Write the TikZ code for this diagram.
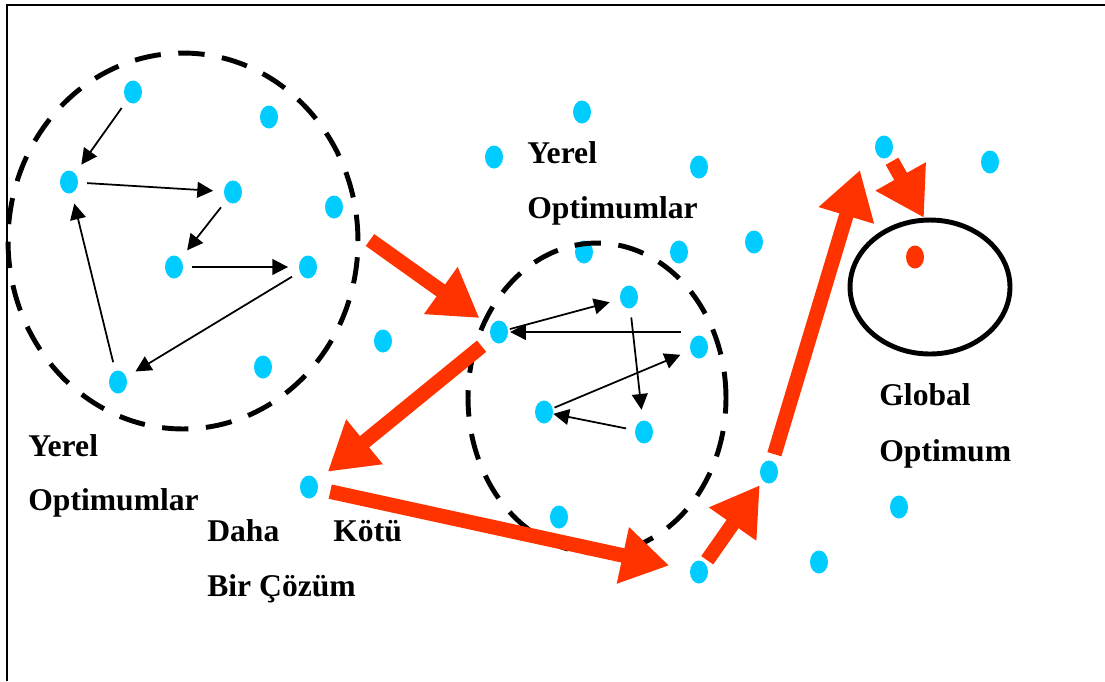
\documentclass[tikz,border=0pt]{standalone}
\usepackage{fontspec}
\setmainfont{Liberation Serif}
\usepackage{tikz}
\usetikzlibrary{arrows.meta,shapes.geometric}

\definecolor{dotblue}{RGB}{0,204,255}
\definecolor{leapred}{RGB}{255,51,0}

\tikzset{
  soln/.style={ellipse,fill=dotblue,inner sep=0pt,minimum width=0.36cm,minimum height=0.46cm},
  walk/.style={line width=1pt,-{Triangle[length=9pt,width=9pt]},shorten <=5pt,shorten >=6pt},
  leap/.style={draw=leapred,line width=8.3pt,-{Triangle[length=27pt,width=31pt]}},
  basin/.style={line width=2.8pt,dash pattern=on 15pt off 10pt},
  lbl/.style={anchor=base west,inner sep=0pt,font=\fontsize{18}{22}\selectfont\bfseries}
}

\begin{document}
\begin{tikzpicture}[x=0.02cm,y=-0.02cm]
\useasboundingbox (0,0) rectangle (1105,681);
\draw[line width=1.1pt] (7,681) -- (7,5) -- (1105,5);

% candidate solutions
\foreach \n/\x/\y in {a1/133/92, a2/269/117, a3/69/182, a4/233/192, a5/334/207,
    a6/174/267, a7/308/267, a8/383/341, a9/263/367, a10/118/382}
    {\node[soln] (\n) at (\x,\y) {};}
\foreach \n/\x/\y in {b1/584/252, b2/679/252, b3/629/297, b4/499/332, b5/699/347,
    b6/544/412, b7/644/432, b8/559/517, b9/699/572}
    {\node[soln] (\n) at (\x,\y) {};}
\foreach \n/\x/\y in {t1/582/112, t2/494/157, c1/699/167, c2/754/242, c3/884/147,
    c4/990/162, c5/769/472, c6/899/507, c7/819/562, s/309/487}
    {\node[soln] (\n) at (\x,\y) {};}

% the two local basins and the global one
\draw[basin] (183,241) ellipse [x radius=3.5cm, y radius=3.76cm];
\draw[basin] (597,398) ellipse [x radius=2.58cm, y radius=3.1cm];
\node[draw,ellipse,line width=2.8pt,minimum width=3.2cm,minimum height=2.68cm] (G) at (930,287) {};
\node[soln,fill=leapred] (best) at (915,257) {};

% moves inside the first basin
\draw[walk] (a1) -- (a3);
\draw[walk] (a3) -- (a4);
\draw[walk] (a4) -- (a6);
\draw[walk] (a6) -- (a7);
\draw[walk] (a7) -- (a10);
\draw[walk] (a10) -- (a3);

% moves inside the second basin
\draw[walk,shorten <=1pt] (b4) -- (b3);
\draw[walk,shorten >=1pt] (b5.west |- b4) -- (b4);
\draw[walk] (b3) -- (b7);
\draw[walk,shorten <=1pt] (b6) -- (b5);
\draw[walk,shorten >=0pt] (b7) -- (b6);

% escape path
\coordinate (exitL) at (370,240);
\coordinate (peak) at (860,170);
\draw[leap,shorten >=8pt] (exitL) -- (b4);
\draw[leap,shorten <=7pt,shorten >=8pt] (b4) -- (s);
\draw[leap,shorten <=7pt,shorten >=12pt] (s) -- (b9);
\draw[leap,shorten <=2pt,shorten >=3pt] (b9) -- (c5);
\draw[leap,shorten <=4pt] (c5) -- (peak);
\draw[leap,shorten <=3pt] (c3) -- (G.95);

% labels
\node[lbl] (yl1) at (28,456) {Yerel};
\node[lbl] (yl2) at (28,510) {Optimumlar};
\node[lbl] (ym1) at (527,163) {Yerel};
\node[lbl] (ym2) at (527,218) {Optimumlar};
\node[lbl] (wd1) at (207,541) {Daha};
\node[lbl] (wd2) at (333,541) {Kötü};
\node[lbl] (wd3) at (207,596) {Bir Çözüm};
\node[lbl] (gl1) at (879,405) {Global};
\node[lbl] (gl2) at (879,461) {Optimum};

\end{tikzpicture}
\end{document}
